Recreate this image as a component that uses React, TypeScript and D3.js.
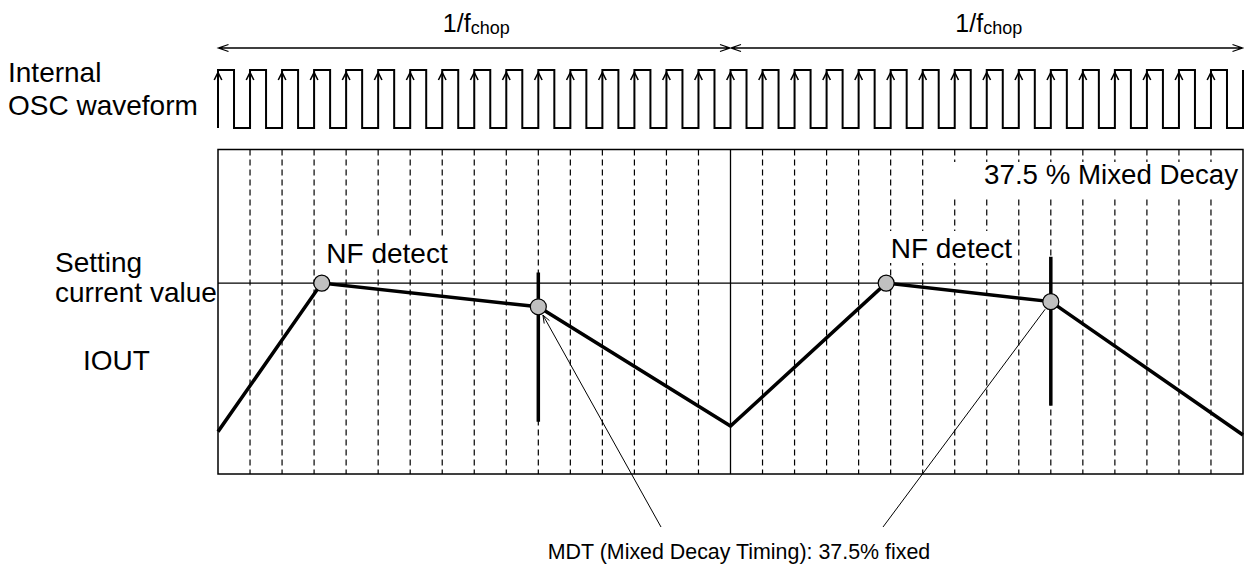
import React from "react";
import * as d3 from "d3";

// ---------------- data ----------------
// time axis is measured in internal OSC clock periods
const chopBoundaries = [0, 16, 32];
const clockRisingEdges = [0, 1, 2, 3, 4, 5, 6, 7, 8, 9, 10, 11, 12, 13, 14, 15, 16, 17, 18, 19, 20, 21, 22, 23, 24, 25, 26, 27, 28, 29, 30, 31, 32];
const clockDuty = 0.5;
const dashedGridClocks = [1, 2, 3, 4, 5, 6, 7, 8, 9, 10, 11, 12, 13, 14, 15, 17, 18, 19, 20, 21, 22, 23, 24, 25, 26, 27, 28, 29, 30, 31];
const settingCurrent = 1.0;

// IOUT waveform (relative to the setting current)
const ioutTimes = [0, 3.24, 10, 16, 20.86, 26, 32];
const ioutValues = [0.222, 1.0, 0.876, 0.251, 1.0, 0.903, 0.204];

// NF detect points
const nfTimes = [3.24, 20.86];
const nfValues = [1.0, 1.0];

// MDT (mixed decay timing) points and markers
const mdtTimes = [10, 26];
const mdtValues = [0.876, 0.903];
const mdtMarkerTop = [1.055, 1.138];
const mdtMarkerBottom = [0.274, 0.358];

const chopLabelMain = "1/f";
const chopLabelSub = "chop";
const nfLabel = "NF detect";
const decayLabel = "37.5 % Mixed Decay";
const mdtLabel = "MDT (Mixed Decay Timing): 37.5% fixed";

// ---------------- layout ----------------
const W = 1246;
const H = 566;
const FONT = "'Liberation Sans', Arial, Helvetica, sans-serif";
const boxTop = 149.5;
const boxBottom = 474;
const clkHigh = 70;
const clkLow = 128;
const chopArrowY = 48;

const x = d3.scaleLinear().domain([0, 32]).range([218, 1243]);
const y = d3.scaleLinear().domain([0, 1.7]).range([boxBottom, boxTop]);

function openHead(tx: number, ty: number, dx: number, dy: number, len: number, half: number) {
  const bx = tx - dx * len;
  const by = ty - dy * len;
  const px = -dy;
  const py = dx;
  return `M${bx + px * half},${by + py * half}L${tx},${ty}L${bx - px * half},${by - py * half}`;
}

export default function App() {
  // clock waveform
  let clk = "";
  clockRisingEdges.forEach((t, i) => {
    const xr = x(t);
    if (i === 0) clk += `M${xr},${clkLow}`;
    clk += `L${xr},${clkHigh}`;
    if (i < clockRisingEdges.length - 1) {
      const xf = x(t + clockDuty);
      const xn = x(clockRisingEdges[i + 1]);
      clk += `L${xf},${clkHigh}L${xf},${clkLow}L${xn},${clkLow}`;
    }
  });
  const clkHeads = clockRisingEdges
    .slice(0, -1)
    .map((t) => openHead(x(t), clkHigh + 2.5, 0, -1, 7.5, 3.8))
    .join("");

  const iout = d3
    .line<number>()
    .x((_, i) => x(ioutTimes[i]))
    .y((v) => y(v))(ioutValues) as string;

  // chop arrows
  const chopArrows: string[] = [];
  for (let i = 0; i < chopBoundaries.length - 1; i++) {
    const a = x(chopBoundaries[i]) + 0.5;
    const b = x(chopBoundaries[i + 1]) - 0.5;
    chopArrows.push(`M${a},${chopArrowY}L${b},${chopArrowY}`);
    chopArrows.push(openHead(a, chopArrowY, -1, 0, 10, 3.5));
    chopArrows.push(openHead(b, chopArrowY, 1, 0, 10, 3.5));
  }

  // annotation leader lines from MDT label to MDT points
  const anchors = [
    [661, 527],
    [883, 527],
  ];
  const leaders = mdtTimes.map((t, i) => {
    const cx = x(t);
    const cy = y(mdtValues[i]);
    const [ax, ay] = anchors[i];
    const dx = cx - ax;
    const dy = cy - ay;
    const L = Math.hypot(dx, dy);
    const ux = dx / L;
    const uy = dy / L;
    const ex = cx - ux * 9.5;
    const ey = cy - uy * 9.5;
    let d = `M${ax},${ay}L${ex},${ey}`;
    if (i === 0) d += openHead(ex, ey, ux, uy, 8, 3);
    return d;
  });

  const textStyle = { fontFamily: FONT, fill: "#000" } as const;

  return (
    <svg
      width={W}
      height={H}
      viewBox={`0 0 ${W} ${H}`}
      style={{ position: "absolute", left: 0, top: 0, background: "#fff" }}
    >
      <rect x={0} y={0} width={W} height={H} fill="#fff" />

      {/* chop period arrows */}
      <path d={chopArrows.join("")} fill="none" stroke="#000" strokeWidth={1.3} />
      {chopBoundaries.slice(0, -1).map((t, i) => (
        <text
          key={"chop" + i}
          x={(x(t) + x(chopBoundaries[i + 1])) / 2 + 2}
          y={32}
          textAnchor="middle"
          style={textStyle}
          fontSize={25}
        >
          {chopLabelMain}
          <tspan fontSize={18} dy={2}>
            {chopLabelSub}
          </tspan>
        </text>
      ))}

      {/* clock */}
      <path d={clk} fill="none" stroke="#000" strokeWidth={2} strokeLinejoin="miter" />
      <path d={clkHeads} fill="none" stroke="#000" strokeWidth={1.6} />

      {/* left labels */}
      <text x={8} y={82} fontSize={28} style={textStyle}>Internal</text>
      <text x={8} y={115} fontSize={28} style={textStyle}>OSC waveform</text>
      <text x={55} y={272} fontSize={28} style={textStyle}>Setting</text>
      <text x={55} y={302} fontSize={28} style={textStyle}>current value</text>
      <text x={83} y={370} fontSize={28} style={textStyle}>IOUT</text>

      {/* dashed grid */}
      {dashedGridClocks.map((t) => (
        <line
          key={"g" + t}
          x1={x(t)}
          x2={x(t)}
          y1={boxTop}
          y2={boxBottom}
          stroke="#000"
          strokeWidth={1.2}
          strokeDasharray="6 4"
        />
      ))}

      {/* text backgrounds */}
      <rect x={x(nfTimes[0]) - 1} y={236} width={128} height={32} fill="#fff" />
      <rect x={x(nfTimes[1]) - 1} y={231} width={128} height={32} fill="#fff" />
      <rect x={950} y={162} width={291} height={36} fill="#fff" />

      {/* box, divider, setting line */}
      <rect
        x={x(0)}
        y={boxTop}
        width={x(32) - x(0)}
        height={boxBottom - boxTop}
        fill="none"
        stroke="#000"
        strokeWidth={1.5}
      />
      {chopBoundaries.slice(1, -1).map((t) => (
        <line key={"div" + t} x1={x(t)} x2={x(t)} y1={boxTop} y2={boxBottom} stroke="#000" strokeWidth={1.3} />
      ))}
      <line x1={x(0)} x2={x(32)} y1={y(settingCurrent)} y2={y(settingCurrent)} stroke="#000" strokeWidth={1.2} />

      {/* labels in plot */}
      {nfTimes.map((t, i) => (
        <text
          key={"nfl" + i}
          x={x(t) + 4.5}
          y={i === 0 ? 263 : 258}
          fontSize={28}
          style={textStyle}
        >
          {nfLabel}
        </text>
      ))}
      <text x={1238} y={184} fontSize={27.7} textAnchor="end" style={textStyle}>
        {decayLabel}
      </text>

      {/* IOUT */}
      <path d={iout} fill="none" stroke="#000" strokeWidth={3.5} strokeLinejoin="miter" />

      {/* MDT markers */}
      {mdtTimes.map((t, i) => (
        <line
          key={"mk" + i}
          x1={x(t)}
          x2={x(t)}
          y1={y(mdtMarkerTop[i])}
          y2={y(mdtMarkerBottom[i])}
          stroke="#000"
          strokeWidth={3.5}
        />
      ))}

      {/* leaders */}
      <path d={leaders.join("")} fill="none" stroke="#000" strokeWidth={1} />

      {/* points */}
      {nfTimes.map((t, i) => (
        <circle key={"nf" + i} cx={x(t)} cy={y(nfValues[i])} r={8} fill="#c0c0c0" stroke="#000" strokeWidth={1.2} />
      ))}
      {mdtTimes.map((t, i) => (
        <circle key={"md" + i} cx={x(t)} cy={y(mdtValues[i])} r={8} fill="#c0c0c0" stroke="#000" strokeWidth={1.2} />
      ))}

      <text x={739} y={559} fontSize={21.4} textAnchor="middle" style={textStyle}>
        {mdtLabel}
      </text>
    </svg>
  );
}
